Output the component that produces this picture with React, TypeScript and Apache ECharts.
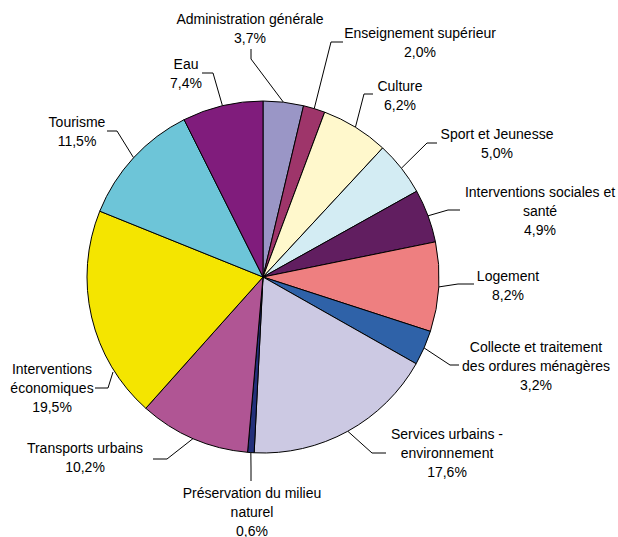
import React, { useEffect, useRef } from "react";
import * as echarts from "echarts";

const categories = [
  "Administration générale",
  "Enseignement supérieur",
  "Culture",
  "Sport et Jeunesse",
  "Interventions sociales et\nsanté",
  "Logement",
  "Collecte et traitement\ndes ordures ménagères",
  "Services urbains -\nenvironnement",
  "Préservation du milieu\nnaturel",
  "Transports urbains",
  "Interventions\néconomiques",
  "Tourisme",
  "Eau",
];

const values = [3.7, 2.0, 6.2, 5.0, 4.9, 8.2, 3.2, 17.6, 0.6, 10.2, 19.5, 11.5, 7.4];

const colors = [
  "#9A96C6",
  "#9E356A",
  "#FFF8CC",
  "#D3ECF3",
  "#611E60",
  "#EE7F80",
  "#2F62A8",
  "#CCC9E3",
  "#23307A",
  "#B05594",
  "#F4E500",
  "#6DC5D8",
  "#801C7C",
];

// Label layout (text block centre x, top y, leader-line elbow and end; optional start)
type LabelPos = { x: number; y: number; elbow: number[]; end: number[]; start?: number[] };
const labelLayoutPos: LabelPos[] = [
  { x: 250, y: 9, elbow: [251, 59], end: [251, 49] },
  { x: 420, y: 23, elbow: [331, 42], end: [343, 42] },
  { x: 400, y: 76, elbow: [364, 94], end: [373, 94] },
  { x: 497, y: 124, elbow: [427, 143], end: [437, 143] },
  { x: 540, y: 182, elbow: [448, 210], end: [460, 210] },
  { x: 508, y: 266, elbow: [458, 284], end: [474, 284] },
  { x: 536, y: 337, elbow: [450, 365], end: [459, 365] },
  { x: 447, y: 424, elbow: [372, 453], end: [386, 453] },
  { x: 252, y: 483, elbow: [251, 468], end: [251, 481] },
  { x: 85, y: 438, elbow: [167, 459], end: [153, 459] },
  { x: 52, y: 359, elbow: [108, 388], end: [95, 388], start: [113, 372] },
  { x: 77, y: 112, elbow: [117, 131], end: [107, 131] },
  { x: 186, y: 54, elbow: [213, 73], end: [202, 73] },
];

const CX = 263;
const CY = 277;
const R = 176;

export default function App() {
  const ref = useRef<HTMLDivElement>(null);
  useEffect(() => {
    if (!ref.current) return;
    const chart = echarts.init(ref.current, null, { renderer: "svg" });
    const total = values.reduce((a, b) => a + b, 0);
    const data = categories.map((name, i) => ({
      name,
      value: values[i],
      itemStyle: { color: colors[i] },
    }));
    const midPoint = (i: number) => {
      let cum = 0;
      for (let k = 0; k < i; k++) cum += values[k];
      const a = ((cum + values[i] / 2) / total) * Math.PI * 2;
      return [CX + R * Math.sin(a), CY - R * Math.cos(a)];
    };
    chart.setOption({
      animation: false,
      textStyle: { fontFamily: "Liberation Sans, Arial, sans-serif" },
      series: [
        {
          type: "pie",
          center: [CX, CY],
          radius: R,
          startAngle: 90,
          clockwise: true,
          avoidLabelOverlap: false,
          data,
          itemStyle: { borderColor: "#000", borderWidth: 1 },
          label: {
            show: true,
            color: "#000",
            fontSize: 14,
            lineHeight: 19,
            overflow: "none",
            formatter: (p: any) => {
              const lines = String(p.name).split("\n");
              const pct = p.value.toFixed(1).replace(".", ",") + "%";
              return [...lines, pct].map((l) => "{a|" + l + "}").join("\n");
            },
            rich: {
              a: {
                align: "center",
                fontSize: 14,
                lineHeight: 19,
                color: "#000",
                fontFamily: "Liberation Sans, Arial, sans-serif",
              },
            },
          },
          labelLine: {
            show: true,
            length: 14,
            length2: 12,
            lineStyle: { color: "#000", width: 1 },
          },
          labelLayout: (params: any) => {
            const i = params.dataIndex;
            const L = labelLayoutPos[i];
            const p0 = L.start || midPoint(i);
            return {
              x: L.x,
              y: L.y,
              align: "center",
              verticalAlign: "top",
              labelLinePoints: [p0, L.elbow, L.end],
            };
          },
        },
      ],
    });
    return () => chart.dispose();
  }, []);
  return (
    <div
      ref={ref}
      style={{ position: "absolute", left: 0, top: 0, width: 618, height: 537 }}
    />
  );
}
